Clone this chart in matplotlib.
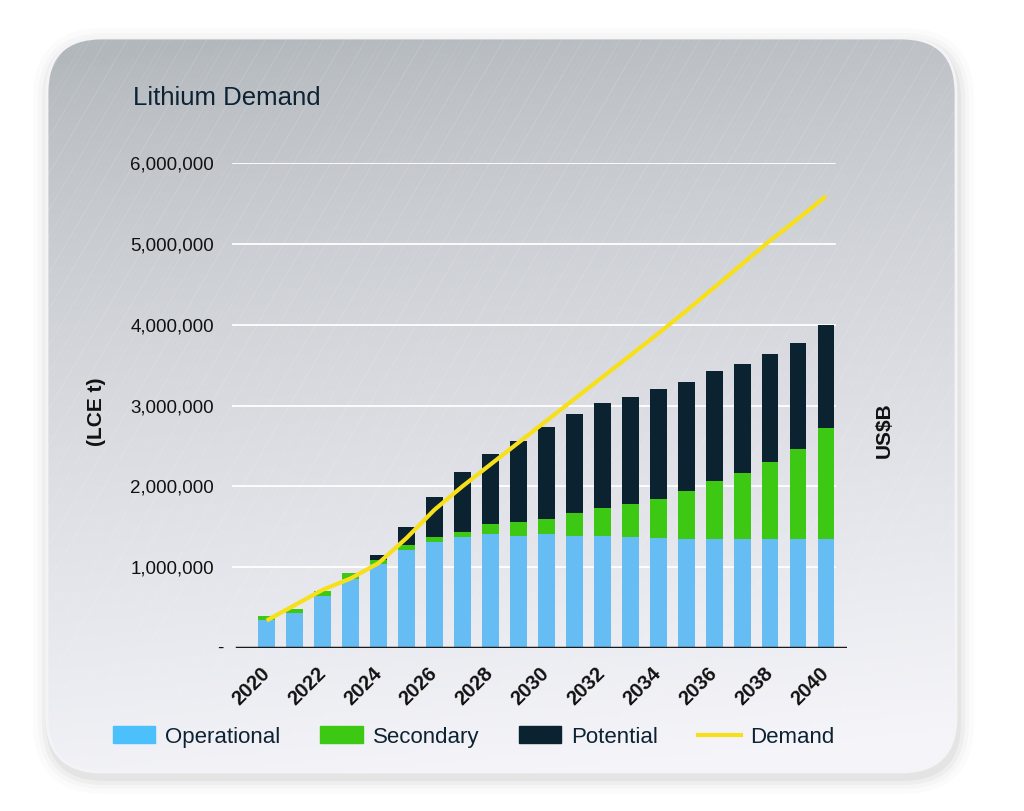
import matplotlib
matplotlib.use("Agg")
import matplotlib.pyplot as plt
from matplotlib.patches import FancyBboxPatch, Patch
from matplotlib.lines import Line2D
from matplotlib.collections import LineCollection
import numpy as np

plt.rcParams['font.family'] = ['Liberation Sans', 'DejaVu Sans']

years = list(range(2020, 2041))
# tonnes LCE
operational = [346000, 437000, 647000, 853000, 1039000, 1212000, 1315000,
               1377000, 1406000, 1390000, 1406000, 1390000, 1390000, 1370000,
               1357000, 1348000, 1348000, 1348000, 1348000, 1348000, 1348000]
secondary = [50000, 45000, 58000, 71000, 50000, 62000, 55000, 63000, 134000,
             173000, 194000, 276000, 338000, 407000, 486000, 590000, 718000,
             817000, 952000, 1114000, 1370000]
potential = [0, 0, 0, 0, 57000, 226000, 502000, 740000, 860000, 994000,
             1140000, 1234000, 1302000, 1333000, 1357000, 1357000, 1361000,
             1352000, 1333000, 1311000, 1278000]
demand = [340000, 530000, 720000, 860000, 1050000, 1360000, 1710000, 2000000,
          2270000, 2540000, 2810000, 3080000, 3350000, 3620000, 3890000,
          4170000, 4460000, 4750000, 5040000, 5310000, 5590000]
ytick_vals = [0, 1000000, 2000000, 3000000, 4000000, 5000000, 6000000]
ytick_labels = ['', '1,000,000', '2,000,000', '3,000,000', '4,000,000',
                '5,000,000', '6,000,000']

c_oper = '#66bdf4'
c_sec = '#3dc814'
c_pot = '#0b2230'
c_dem = '#f7e01a'
c_text = '#0d2233'

W, H = 1024, 811
fig = plt.figure(figsize=(W / 100, H / 100), dpi=100, facecolor='white')

# ---- background panel (rounded, brushed metal look) ----
bg = fig.add_axes([0, 0, 1, 1], zorder=-5)
bg.set_xlim(0, W)
bg.set_ylim(H, 0)
bg.axis('off')

bx0, by0, bx1, by1 = 47, 38, 956, 772
for k, a in [(16, 0.015), (11, 0.02), (7, 0.03), (3, 0.04)]:
    sh = FancyBboxPatch((bx0 - k + 2, by0 - k + 6), bx1 - bx0 + 2 * k, by1 - by0 + 2 * k,
                        boxstyle="round,pad=0,rounding_size=%d" % (55 + k),
                        fc='#000000', ec='none', alpha=a, zorder=-3)
    bg.add_patch(sh)
panel = FancyBboxPatch((bx0, by0), bx1 - bx0, by1 - by0,
                       boxstyle="round,pad=0,rounding_size=55",
                       fc='none', ec='#f4f4f6', lw=2, zorder=3)
bg.add_patch(panel)

gy, gx = np.mgrid[0:1:200j, 0:1:200j]
t = np.clip(0.95 * gy + 0.12 * gx - 0.03, 0, 1)
top = np.array([0.70, 0.72, 0.74])
bot = np.array([0.96, 0.96, 0.98])
img = top + (bot - top) * t[..., None] ** 0.75
im = bg.imshow(img, extent=[bx0, bx1, by1, by0], aspect='auto', zorder=0)
im.set_clip_path(panel)

# faint diagonal streaks
segs = []
alphas = []
for i, x0 in enumerate(np.arange(-450, 1000, 5.3)):
    segs.append([(x0, by1), (x0 + 430, by0)])
    alphas.append(0.03 + 0.12 * np.sin(i * 2.3) ** 8)
lc = LineCollection(segs, colors=[(1, 1, 1, a) for a in alphas], linewidths=0.7, zorder=1)
bg.add_collection(lc)
lc.set_clip_path(panel)

# ---- main chart ----
ax_l, ax_r, ax_b, ax_t = 232, 847, 648, 163
ax = fig.add_axes([ax_l / W, 1 - ax_b / H, (ax_r - ax_l) / W, (ax_b - ax_t) / H])
ax.patch.set_alpha(0)
for s in ax.spines.values():
    s.set_visible(False)

x = np.array(years)
op = np.array(operational)
se = np.array(secondary)
po = np.array(potential)

for yv in ytick_vals[1:]:
    ax.axhline(yv, xmin=0, xmax=0.98, color='white', lw=1.3, zorder=1)

ax.bar(x, op, width=0.6, color=c_oper, zorder=2)
ax.bar(x, se, width=0.6, bottom=op, color=c_sec, zorder=2)
ax.bar(x, po, width=0.6, bottom=op + se, color=c_pot, zorder=2)
ax.plot(x, demand, color=c_dem, lw=3, zorder=3, solid_capstyle='butt')
ax.axhline(0, xmin=0.008, xmax=1, color='#1a1a1a', lw=2.5, zorder=4)

ax.set_xlim(2018.76, 2040.75)
ax.set_ylim(0, 6000000)
ax.set_yticks(ytick_vals)
ax.set_yticklabels(ytick_labels, fontsize=13.5, color='#111111')
# zero is shown as a dash, sitting a little closer to the axis
ax.annotate('-', xy=(0, 0), xycoords=('axes fraction', 'data'),
            xytext=(-8, 0), textcoords='offset pixels', ha='right', va='center',
            fontsize=13.5, color='#111111')
ax.set_xticks(years[::2])
ax.set_xticklabels([str(y) for y in years[::2]], fontsize=14.5, fontweight='bold',
                   rotation=45, ha='right', va='center', rotation_mode='anchor',
                   color='#111111')
ax.tick_params(axis='y', length=0, pad=13)
ax.tick_params(axis='x', length=0, pad=16)

fig.text(133 / W, 1 - 98 / H, 'Lithium Demand', fontsize=18.5, color=c_text, va='center')
fig.text(96 / W, 1 - 412 / H, '(LCE t)', fontsize=15, fontweight='bold', rotation=90,
         ha='center', va='center', color='#111111')
fig.text(884 / W, 1 - 430 / H, 'US$B', fontsize=15, fontweight='bold', rotation=90,
         ha='center', va='center', color='#111111')

handles = [Patch(color='#4cc0fb'), Patch(color=c_sec), Patch(color=c_pot),
           Line2D([], [], color=c_dem, lw=3)]
fig.legend(handles, ['Operational', 'Secondary', 'Potential', 'Demand'],
           loc='center left', bbox_to_anchor=(113 / W, 1 - 737 / H), ncol=4,
           frameon=False, fontsize=16, handlelength=1.9, handleheight=0.8,
           handletextpad=0.45, columnspacing=1.8, borderpad=0, borderaxespad=0,
           labelcolor=c_text)

fig.savefig('out.png', dpi=100, facecolor='white')
